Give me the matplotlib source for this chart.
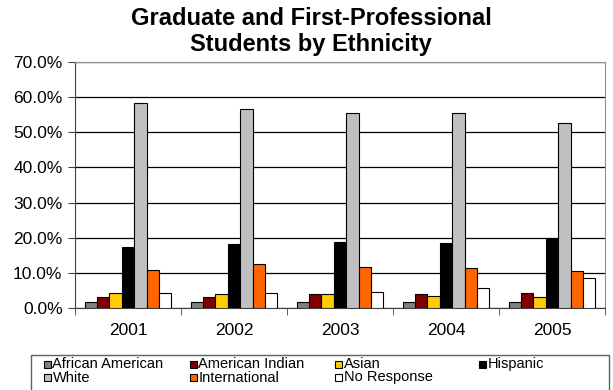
import matplotlib
matplotlib.use("Agg")
import matplotlib.pyplot as plt
import numpy as np
from matplotlib.ticker import FuncFormatter, MultipleLocator, FixedLocator
from matplotlib.patches import Rectangle

plt.rcParams['font.family'] = ['Liberation Sans', 'DejaVu Sans']

years = ["2001", "2002", "2003", "2004", "2005"]
series = ["African American", "American Indian", "Asian", "Hispanic",
          "White", "International", "No Response"]
african_american = [1.8, 1.8, 1.8, 1.8, 1.7]
american_indian = [3.1, 3.1, 3.9, 3.9, 4.3]
asian = [4.3, 3.9, 3.9, 3.4, 3.1]
hispanic = [17.5, 18.2, 18.9, 18.5, 19.6]
white = [58.3, 56.6, 55.5, 55.5, 52.7]
international = [10.9, 12.4, 11.7, 11.3, 10.6]
no_response = [4.3, 4.3, 4.6, 5.7, 8.5]
values = [african_american, american_indian, asian, hispanic, white,
          international, no_response]
colors = ["#808080", "#800000", "#FFCC00", "#000000", "#C0C0C0",
          "#FF6600", "#FFFFFF"]

W, H = 613, 390
fig = plt.figure(figsize=(W / 100, H / 100), dpi=100)
ax = fig.add_axes([75 / W, (H - 308) / H, 530 / W, 246 / H])

x = np.arange(len(years))
bw = 0.117
for i, (name, vals, c) in enumerate(zip(series, values, colors)):
    off = (i - 3) * bw
    ax.bar(x + off, vals, bw, color=c, edgecolor="black", linewidth=0.8,
           label=name, zorder=3)

ax.set_ylim(0, 70)
ax.set_xlim(-0.5, 4.5)
ax.yaxis.set_major_locator(MultipleLocator(10))
ax.yaxis.set_major_formatter(FuncFormatter(lambda v, p: f"{v:.1f}%"))
ax.yaxis.grid(True, color="black", linewidth=0.9, zorder=0)
ax.set_xticks(x)
ax.set_xticklabels(years)
ax.xaxis.set_minor_locator(FixedLocator(np.arange(-0.5, 5, 1.0)))
ax.tick_params(axis="x", which="major", length=0, labelsize=12.5, pad=11)
ax.tick_params(axis="x", which="minor", length=5, color="#404040")
ax.tick_params(axis="y", length=5, labelsize=12.5, color="#404040", pad=4)
for s in ["left", "bottom"]:
    ax.spines[s].set_color("#404040")
for s in ["top", "right"]:
    ax.spines[s].set_color("#909090")

fig.text(311 / W, 1 - 31.5 / H,
         "Graduate and First-Professional\nStudents by Ethnicity",
         ha="center", va="center", fontsize=17, fontweight="bold",
         linespacing=1.12)

# legend (manual layout, row-major like the original)
fig.patches.append(Rectangle((31 / W, -0.05), (609 - 31) / W, 0.05 + (H - 355) / H,
                             transform=fig.transFigure, facecolor="white",
                             edgecolor="#606060", linewidth=1.0))
col_x = [44, 190, 335, 479]
row_y = [364, 377.5]
sq = 7
for i, (name, c) in enumerate(zip(series, colors)):
    r, cidx = divmod(i, 4)
    px, py = col_x[cidx], row_y[r]
    fig.patches.append(Rectangle((px / W, (H - py - sq / 2) / H), sq / W, sq / H,
                                 transform=fig.transFigure, facecolor=c,
                                 edgecolor="black", linewidth=0.8))
    fig.text((px + sq + 1.5) / W, (H - py) / H, name, ha="left", va="center",
             fontsize=10.5)

fig.savefig("out.png", dpi=100)
